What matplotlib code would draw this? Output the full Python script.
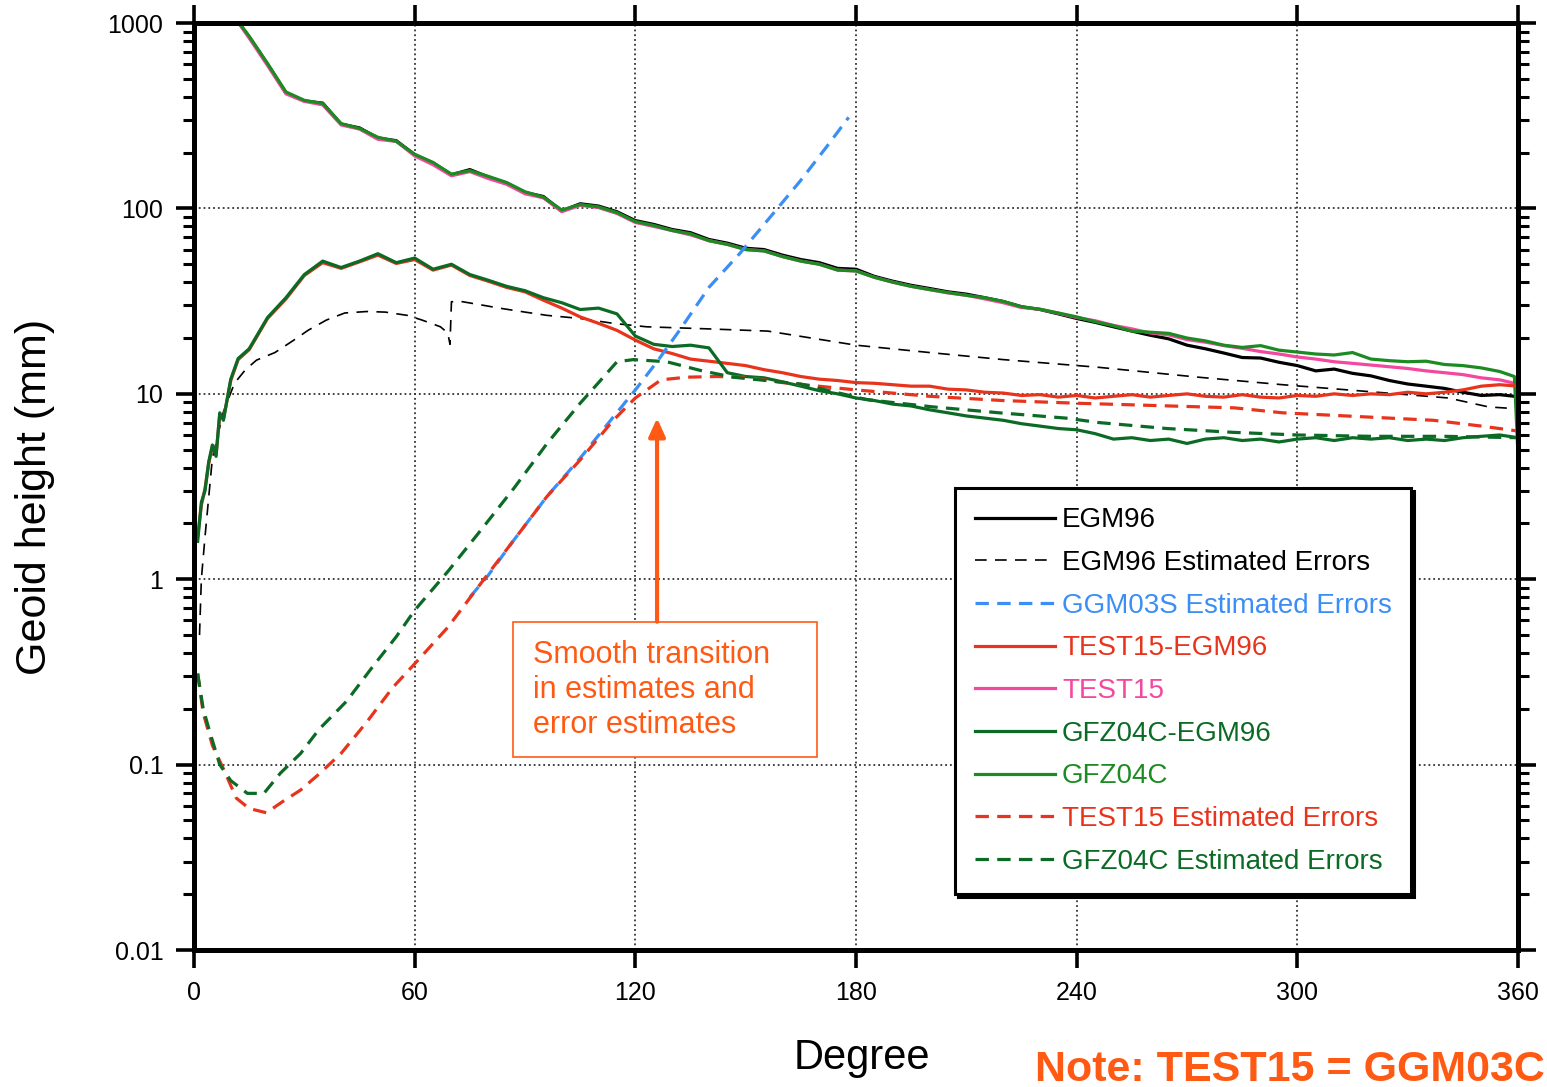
import matplotlib
matplotlib.use('Agg')

import numpy as np
import matplotlib.pyplot as plt
from matplotlib.patches import Rectangle
from matplotlib.ticker import FixedLocator, LogLocator, FuncFormatter, NullFormatter

plt.rcParams['font.family'] = ['Liberation Sans', 'DejaVu Sans']

# Degrees for the signal curves (EGM96, TEST15, GFZ04C)
deg_sig = list(range(10, 360, 5)) + [359, 360]

egm96 = [1150, 840, 600, 420, 380, 370, 285, 272, 240, 232,
         195, 176, 152, 162, 148, 137, 122, 116, 97, 106,
         103, 96, 86, 82, 77, 74, 68, 65, 61, 60,
         56, 53, 51, 47.5, 47, 43, 40.5, 38.5, 37, 35.5,
         34.5, 33, 31.5, 29.5, 28.5, 27, 25.5, 24.3, 23, 21.8,
         20.7, 19.8, 18.3, 17.5, 16.6, 15.7, 15.6, 14.8, 14.2, 13.3,
         13.6, 12.9, 12.5, 11.8, 11.3, 11.0, 10.7, 10.2, 9.8, 9.9,
         9.7, 9.6]

test15 = [1150, 830, 590, 415, 378, 362, 282, 268, 236, 230,
          192, 172, 150, 158, 145, 135, 120, 114, 96, 104,
          101, 94, 84, 80, 76, 72, 67, 64, 60, 59,
          55, 52, 50, 46.5, 46, 42.5, 40, 38, 36.5, 35,
          34, 32.5, 31, 29.2, 28.6, 27.2, 25.8, 24.8, 23.4, 22.4,
          21.3, 20.8, 19.6, 19.0, 18.2, 17.6, 16.9, 16.4, 15.8, 15.4,
          14.9, 14.6, 14.3, 14.0, 13.7, 13.3, 13.0, 12.7, 12.2, 11.9,
          11.4, 11.2]

gfz04c = [1150, 850, 605, 425, 383, 368, 287, 270, 242, 230,
          196, 177, 153, 160, 149, 138, 123, 115, 98, 105,
          102, 95, 85, 81, 76, 73, 67, 64, 60, 59,
          55, 52, 50, 46.5, 46, 42.5, 40, 38, 36.5, 35.2,
          34, 33, 31.5, 29.5, 28.6, 27.3, 26.0, 24.5, 23.3, 21.8,
          21.5, 21.2, 20.0, 19.3, 18.3, 17.8, 18.2, 17.2, 16.8, 16.4,
          16.2, 16.7, 15.4, 15.1, 14.9, 15.0, 14.4, 14.2, 13.8, 13.2,
          12.4, 4.6]

# Degrees for the difference curves
deg_diff = [1, 2, 3, 4, 5, 6, 7, 8, 10, 12] + list(range(15, 361, 5))

gfz04c_egm96 = [1.6, 2.6, 3.0, 4.3, 5.3, 4.6, 7.9, 7.2, 12, 15.5,
                17.5, 25.8, 33, 44, 52, 48, 52, 57, 51, 54,
                47, 50, 44, 41, 38, 36, 33, 31, 28.5, 29,
                27, 20.5, 18.5, 18, 18.3, 17.7, 13, 12.4, 12.2, 11.6,
                11.0, 10.4, 10.0, 9.5, 9.2, 8.8, 8.6, 8.2, 7.9, 7.6,
                7.4, 7.2, 6.9, 6.7, 6.5, 6.4, 6.1, 5.7, 5.8, 5.6,
                5.7, 5.4, 5.7, 5.8, 5.6, 5.7, 5.5, 5.7, 5.8, 5.6,
                5.8, 5.7, 5.8, 5.6, 5.7, 5.6, 5.8, 5.9, 6.0, 5.8]

test15_egm96 = [1.7, 2.5, 3.1, 4.2, 5.2, 4.7, 7.7, 7.3, 11.8, 15.3,
                17.3, 25.5, 32.5, 43.5, 51, 47.5, 51.5, 56, 50.5, 53,
                46.5, 49.5, 43.5, 40.5, 37.5, 35.5, 32, 29, 26, 24,
                22, 19.5, 17.5, 16.5, 15.4, 15.0, 14.6, 14.2, 13.5, 13.0,
                12.4, 12.0, 11.8, 11.5, 11.4, 11.2, 11.0, 11.0, 10.6, 10.5,
                10.2, 10.1, 9.8, 9.9, 9.6, 9.8, 9.5, 9.7, 9.9, 9.6,
                9.8, 10.0, 9.7, 9.6, 9.9, 9.6, 9.5, 9.8, 9.7, 10.0,
                9.8, 10.0, 9.9, 10.2, 10.0, 10.2, 10.5, 11.0, 11.2, 11.0]

# EGM96 estimated errors
deg_egm_err = [1.5, 2, 3, 5, 8, 11, 14, 17, 22, 27, 31, 36, 41, 47, 52, 58,
               62, 67, 69, 69.6, 70, 73, 78, 83, 90, 96, 105, 114, 123, 140,
               156, 180, 200, 220, 246, 273, 296, 319, 341, 352, 360]
egm96_err = [0.5, 1.0, 1.7, 4.5, 8, 11.4, 13.5, 15.2, 16.7, 19.4, 22, 25, 27.3,
             27.8, 27.6, 26.5, 25, 23, 21.3, 18.5, 31.4, 31.4, 30.2, 29, 27.6,
             26.5, 25.5, 24, 23, 22.4, 21.8, 18.3, 16.7, 15.3, 13.9, 12.3, 11.2,
             10.3, 9.5, 8.5, 8.3]

# GGM03S estimated errors
deg_ggm_err = [75, 80, 87, 96, 105, 114, 120, 126, 132, 140, 148.5, 157.5, 165, 172, 178]
ggm03s_err = [0.8, 1.05, 1.63, 2.8, 4.5, 7.5, 10.5, 15, 22, 37.5, 57.5, 94, 142, 215, 310]

# TEST15 estimated errors
deg_test_err = [1, 2.5, 5, 8, 11.5, 15, 19.7, 24, 29, 34, 40, 47, 54, 60, 69, 78,
                87, 96, 105, 114, 120, 127, 134, 142, 150, 160, 180, 200, 220,
                240, 257, 283, 296, 319, 337, 350, 360]
test15_err = [0.31, 0.19, 0.127, 0.095, 0.066, 0.058, 0.055, 0.063, 0.073, 0.089,
              0.115, 0.17, 0.26, 0.35, 0.55, 0.95, 1.63, 2.8, 4.4, 7.2, 9.5, 11.9,
              12.3, 12.4, 12.3, 11.5, 10.5, 9.7, 9.2, 8.9, 8.7, 8.4, 7.9, 7.5, 7.2,
              6.7, 6.3]

# GFZ04C estimated errors
deg_gfz_err = [1, 2.5, 4.3, 7, 10, 14.5, 19, 23.5, 29, 34, 41.5, 48.7, 55, 60, 69,
               78, 87, 96, 105, 110, 115, 119.5, 128.5, 137.5, 146.5, 165, 183,
               201, 219, 237, 246, 264.5, 282.5, 300, 320, 340, 360]
gfz04c_err = [0.31, 0.2, 0.15, 0.1, 0.082, 0.07, 0.07, 0.09, 0.115, 0.155, 0.22,
              0.34, 0.49, 0.68, 1.1, 1.84, 3.1, 5.4, 8.9, 11.5, 14.9, 15.3, 14.9,
              13.4, 12.3, 11.3, 9.3, 8.5, 7.9, 7.4, 7.0, 6.5, 6.2, 6.0, 5.9, 5.9,
              5.8]

x_ticks = [0, 60, 120, 180, 240, 300, 360]
y_ticks = [0.01, 0.1, 1, 10, 100, 1000]

# Colours
c_black = '#000000'
c_blue = '#3a8ef5'
c_red = '#e8341c'
c_pink = '#f4479f'
c_dkgreen = '#0b6b25'
c_green = '#1c8c22'
c_orange = '#ff5a14'

fig = plt.figure(figsize=(15.47, 10.87), dpi=100)
ax = fig.add_axes([0.1254, 0.126, 0.8559, 0.8528])

lw = 2.3
dash = (4.2, 2.6)

# Draw the curves (order matters for overlap)
l_egm_err, = ax.plot(deg_egm_err, egm96_err, color=c_black, lw=1.2,
                     dashes=(7, 5), label='EGM96 Estimated Errors')
l_egm, = ax.plot(deg_sig, egm96, color=c_black, lw=lw, label='EGM96')
l_test, = ax.plot(deg_sig, test15, color=c_pink, lw=lw, label='TEST15')
l_gfz, = ax.plot(deg_sig, gfz04c, color=c_green, lw=lw, label='GFZ04C')
l_test_d, = ax.plot(deg_diff, test15_egm96, color=c_red, lw=lw, label='TEST15-EGM96')
l_gfz_d, = ax.plot(deg_diff, gfz04c_egm96, color=c_dkgreen, lw=lw, label='GFZ04C-EGM96')
l_ggm_err, = ax.plot(deg_ggm_err, ggm03s_err, color=c_blue, lw=lw,
                     dashes=dash, label='GGM03S Estimated Errors')
l_test_err, = ax.plot(deg_test_err, test15_err, color=c_red, lw=lw,
                      dashes=dash, label='TEST15 Estimated Errors')
l_gfz_err, = ax.plot(deg_gfz_err, gfz04c_err, color=c_dkgreen, lw=lw,
                     dashes=dash, label='GFZ04C Estimated Errors')

# Axes, scales and ticks
ax.set_yscale('log')
ax.set_xlim(0, 360)
ax.set_ylim(0.01, 1000)
ax.xaxis.set_major_locator(FixedLocator(x_ticks))
ax.yaxis.set_major_locator(FixedLocator(y_ticks))
ax.yaxis.set_minor_locator(LogLocator(base=10, subs=np.arange(2, 10)))
ax.yaxis.set_major_formatter(FuncFormatter(lambda v, p: '%g' % v))
ax.yaxis.set_minor_formatter(NullFormatter())

ax.tick_params(which='major', direction='out', length=13, width=2.6,
               labelsize=18, top=True, right=True, pad=9)
ax.tick_params(which='minor', direction='out', length=8, width=2.2,
               left=True, right=True)
ax.tick_params(axis='x', which='minor', bottom=False, top=False)

for s in ax.spines.values():
    s.set_linewidth(3.6)

ax.grid(True, which='major', linestyle=':', color='#333333', linewidth=1.3)

# Axis titles
fig.text(35 / 1547, 1 - 497 / 1087, 'Geoid height (mm)', rotation=90,
         ha='center', va='center', fontsize=31)
fig.text(862 / 1547, 1 - 1058 / 1087, 'Degree', ha='center', va='center', fontsize=30)
fig.text(1545 / 1547, 1 - 1070 / 1087, 'Note: TEST15 = GGM03C', ha='right',
         va='center', fontsize=31, fontweight='bold', color=c_orange)

# Legend
handles = [l_egm, l_egm_err, l_ggm_err, l_test_d, l_test, l_gfz_d, l_gfz,
           l_test_err, l_gfz_err]
leg = ax.legend(handles=handles, loc='upper left', bbox_to_anchor=(0.5748, 0.4984),
                borderaxespad=0, fontsize=20, frameon=True, fancybox=False,
                shadow={'color': 'black', 'alpha': 1}, edgecolor='black',
                framealpha=1, handlelength=2.9, labelspacing=0.6,
                borderpad=0.7, handletextpad=0.25, labelcolor='linecolor')
leg.get_frame().set_linewidth(2.2)

# Annotation box with arrow
ax.add_patch(Rectangle((0.241, 0.208), 0.2296, 0.1456, transform=ax.transAxes,
                       fill=True, facecolor='white', edgecolor=c_orange, lw=1.2,
                       zorder=5))
ax.text(0.256, 0.2805, 'Smooth transition\nin estimates and\nerror estimates',
        transform=ax.transAxes, ha='left', va='center', fontsize=22,
        color=c_orange, linespacing=1.2, zorder=6)
ax.annotate('', xy=(125.9, 7.4), xytext=(125.9, 0.59),
            arrowprops=dict(arrowstyle='-|>,head_width=0.5,head_length=1.1',
                            color=c_orange, lw=3, shrinkA=0, shrinkB=0),
            zorder=6)

plt.savefig('out.png', dpi=100)
